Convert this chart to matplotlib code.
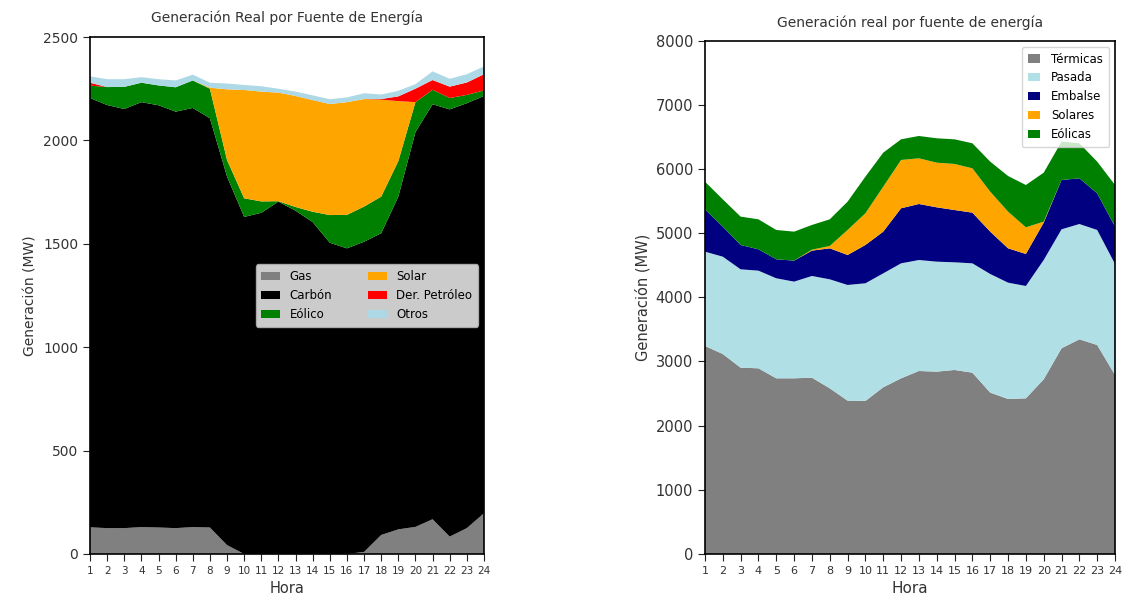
import matplotlib
matplotlib.use("Agg")
import matplotlib.pyplot as plt

hours = list(range(1, 25))

# Left panel: generation by source (MW)
gas = [129, 125, 125, 130, 128, 125, 130, 128, 43, 0, 0, 0,
       0, 0, 0, 0, 10, 92, 119, 131, 168, 84, 125, 197]
carbon = [2076, 2046, 2027, 2055, 2042, 2014, 2027, 1979, 1782, 1630, 1650, 1704,
          1660, 1605, 1505, 1478, 1500, 1459, 1609, 1909, 2007, 2066, 2055, 2018]
eolico = [60, 87, 107, 94, 96, 118, 133, 143, 80, 90, 55, 2,
          18, 50, 134, 162, 170, 177, 172, 145, 70, 55, 40, 27]
solar = [0, 0, 0, 0, 0, 0, 0, 5, 342, 524, 531, 525,
         537, 540, 537, 545, 520, 469, 290, 0, 0, 0, 0, 0]
petroleo = [14, 0, 0, 0, 0, 0, 0, 0, 0, 0, 0, 0,
            0, 0, 0, 0, 0, 3, 23, 65, 47, 55, 60, 78]
otros = [31, 38, 37, 27, 30, 33, 28, 24, 28, 24, 26, 19,
         21, 23, 23, 23, 28, 22, 27, 22, 42, 38, 40, 38]
left_labels = ["Gas", "Carbón", "Eólico", "Solar", "Der. Petróleo", "Otros"]
left_colors = ["grey", "black", "green", "orange", "red", "lightblue"]

# Right panel: generation by source (MW)
termicas = [3242, 3117, 2904, 2894, 2738, 2738, 2748, 2582, 2390, 2385, 2598, 2738,
            2852, 2842, 2868, 2826, 2515, 2416, 2426, 2722, 3206, 3346, 3257, 2790]
pasada = [1470, 1517, 1533, 1522, 1559, 1507, 1585, 1699, 1803, 1834, 1776, 1792,
          1730, 1714, 1678, 1704, 1849, 1813, 1751, 1860, 1854, 1797, 1793, 1730]
embalse = [660, 468, 379, 333, 296, 327, 395, 483, 467, 597, 650, 858,
           873, 847, 815, 790, 660, 535, 499, 582, 769, 712, 571, 582]
solares = [0, 0, 0, 0, 0, 0, 15, 36, 390, 494, 701, 753,
           712, 696, 718, 691, 623, 572, 415, 16, 0, 0, 0, 0]
eolicas = [431, 426, 442, 467, 457, 452, 385, 416, 441, 571, 530, 322,
           348, 380, 384, 390, 468, 555, 660, 763, 598, 546, 494, 649]
right_labels = ["Térmicas", "Pasada", "Embalse", "Solares", "Eólicas"]
right_colors = ["grey", "powderblue", "navy", "orange", "green"]

fig = plt.figure(figsize=(11.35, 6.03), dpi=100)

# ---- left panel ----
ax1 = fig.add_axes([0.0793, 0.0813, 0.3471, 0.8573])
ax1.stackplot(hours, gas, carbon, eolico, solar, petroleo, otros,
              colors=left_colors, labels=left_labels, linewidth=0)
ax1.set_xlim(1, 24)
ax1.set_ylim(0, 2500)
ax1.set_xticks(hours)
ax1.set_yticks([0, 500, 1000, 1500, 2000, 2500])
ax1.tick_params(axis="x", labelsize=7.5, length=5, direction="out", color="#222222")
ax1.tick_params(axis="y", labelsize=10, length=5, direction="out", color="#222222")
for lbl in ax1.get_xticklabels() + ax1.get_yticklabels():
    lbl.set_color("#333333")
ax1.set_title("Generación Real por Fuente de Energía", fontsize=10, color="#333333", pad=11)
ax1.set_xlabel("Hora", fontsize=10.5, color="#333333")
ax1.set_ylabel("Generación (MW)", fontsize=10, color="#333333")
for s in ax1.spines.values():
    s.set_linewidth(1.2)
ax1.legend(loc="center right", ncol=2, fontsize=8.5, frameon=True,
           framealpha=0.8, facecolor="white", edgecolor="#bbbbbb",
           columnspacing=3.0, handlelength=1.6, borderpad=0.5)

# ---- right panel ----
ax2 = fig.add_axes([0.6211, 0.0813, 0.3613, 0.8512])
ax2.stackplot(hours, termicas, pasada, embalse, solares, eolicas,
              colors=right_colors, labels=right_labels, linewidth=0)
ax2.set_xlim(1, 24)
ax2.set_ylim(0, 8000)
ax2.set_xticks(hours)
ax2.set_yticks(range(0, 8001, 1000))
ax2.tick_params(axis="x", labelsize=8, length=5, direction="out", color="#222222")
ax2.tick_params(axis="y", labelsize=10.5, length=5, direction="out", color="#222222")
for lbl in ax2.get_xticklabels() + ax2.get_yticklabels():
    lbl.set_color("#333333")
ax2.set_title("Generación real por fuente de energía", fontsize=10, color="#333333", pad=10)
ax2.set_xlabel("Hora", fontsize=11, color="#333333")
ax2.set_ylabel("Generación (MW)", fontsize=10.5, color="#333333")
for s in ax2.spines.values():
    s.set_linewidth(1.2)
ax2.legend(loc="upper right", ncol=1, fontsize=8.5, frameon=True,
           framealpha=0.8, facecolor="white", edgecolor="#cccccc",
           handlelength=1.0, handletextpad=1.0, borderpad=0.5, labelspacing=0.5)

fig.savefig("out.png", dpi=100)
